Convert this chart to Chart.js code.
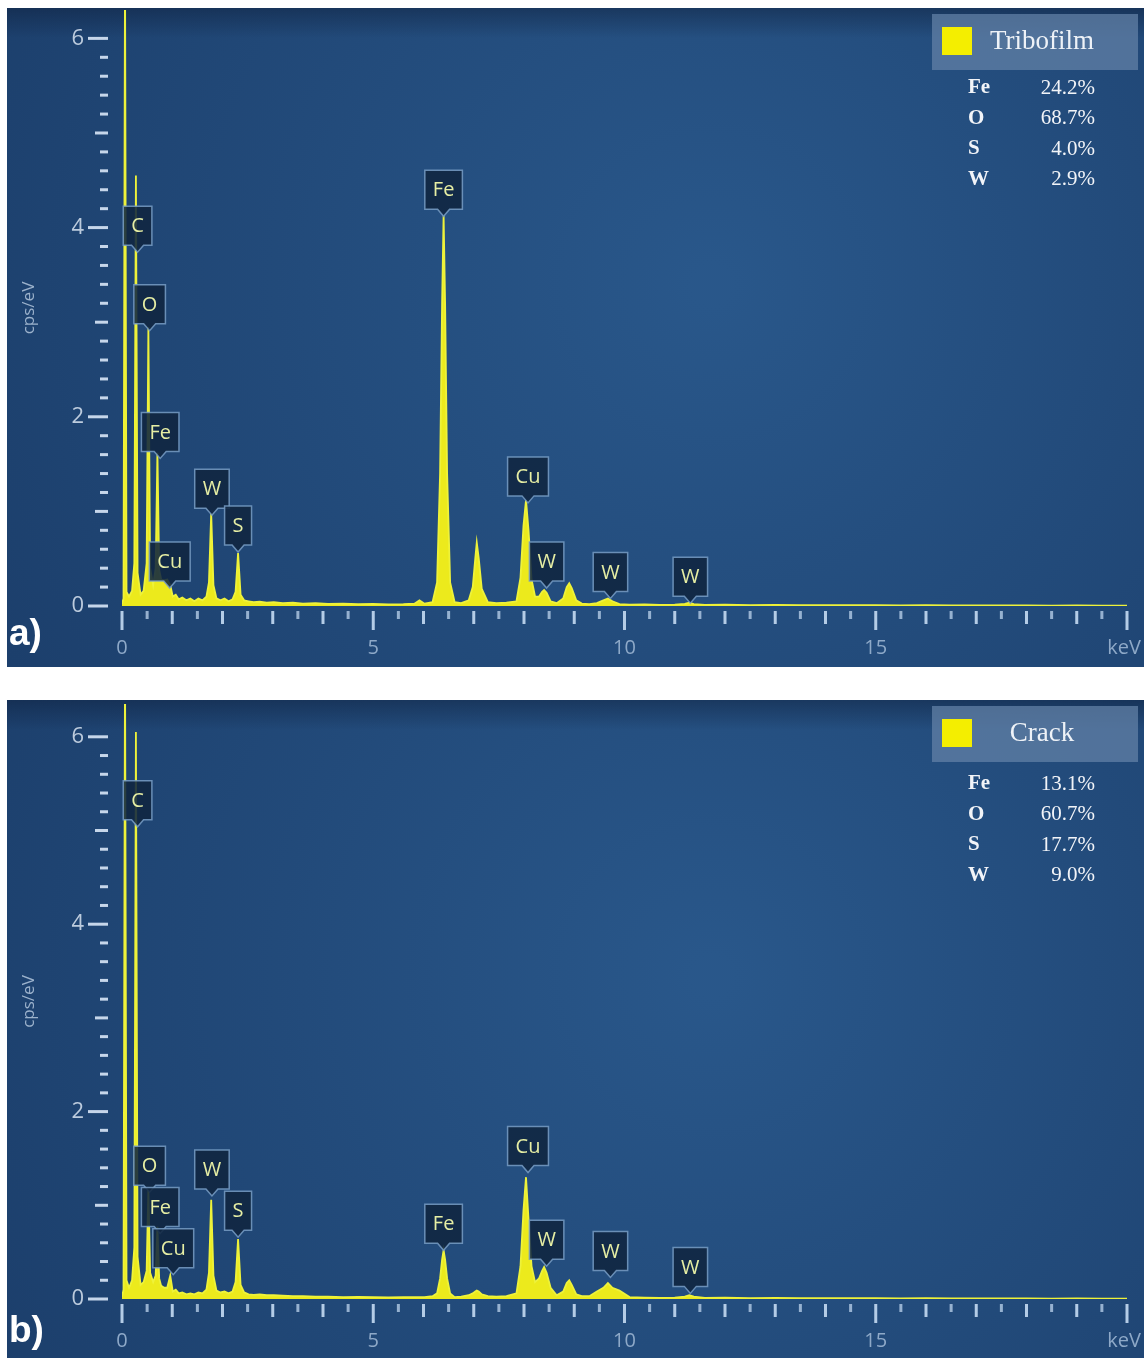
<!DOCTYPE html>
<html>
<head>
<meta charset="utf-8">
<script src="https://cdn.jsdelivr.net/npm/chart.js@4.4.1/dist/chart.umd.min.js"></script>
<style>
  body { margin: 0; background: #fff; width: 1144px; height: 1358px; position: relative; overflow: hidden; }
  canvas { position: absolute; left: 7px; }
  #spectrumA { top: 8px; }
  #spectrumB { top: 700px; }
</style>
</head>
<body>
<canvas id="spectrumA" width="1137" height="659"></canvas>
<canvas id="spectrumB" width="1137" height="658"></canvas>
<script>
// channel energies (keV), shared by both spectra
var energy = [
    0, 0.03, 0.06, 0.09, 0.14, 0.20, 0.245, 0.277, 0.31, 0.37,
    0.43, 0.49, 0.525, 0.56, 0.62, 0.67, 0.705, 0.74, 0.78, 0.84,
    0.90, 0.96, 1.01, 1.07, 1.13, 1.20, 1.28, 1.36, 1.44, 1.52,
    1.60, 1.68, 1.73, 1.775, 1.82, 1.88, 1.96, 2.04, 2.12, 2.20,
    2.26, 2.31, 2.36, 2.43, 2.52, 2.62, 2.74, 2.88, 3.02, 3.20,
    3.40, 3.60, 3.85, 4.10, 4.40, 4.70, 5.00, 5.30, 5.60, 5.82,
    5.92, 6.02, 6.18, 6.27, 6.33, 6.37, 6.40, 6.43, 6.47, 6.53,
    6.62, 6.75, 6.90, 6.98, 7.03, 7.06, 7.10, 7.16, 7.28, 7.45,
    7.65, 7.85, 7.93, 7.99, 8.04, 8.09, 8.15, 8.22, 8.30, 8.36,
    8.40, 8.45, 8.53, 8.65, 8.78, 8.85, 8.90, 8.95, 9.04, 9.15,
    9.30, 9.45, 9.58, 9.67, 9.76, 9.90, 10.1, 10.4, 10.7, 11.0,
    11.2, 11.29, 11.38, 11.6, 12.0, 12.5, 13.0, 13.5, 14.0, 14.5,
    15.0, 15.5, 16.0, 16.5, 17.0, 17.5, 18.0, 18.5, 19.0, 19.5, 20.0
];

// a) tribofilm, cps/eV
var countsA = [
    0.02, 0.08, 6.8, 0.15, 0.10, 0.16, 0.45, 4.55, 0.35, 0.12,
    0.16, 0.45, 2.95, 0.40, 0.22, 0.40, 1.62, 0.38, 0.28, 0.27,
    0.28, 0.22, 0.10, 0.12, 0.07, 0.09, 0.06, 0.08, 0.05, 0.08,
    0.06, 0.10, 0.25, 0.98, 0.22, 0.08, 0.06, 0.08, 0.05, 0.07,
    0.15, 0.56, 0.12, 0.06, 0.05, 0.04, 0.045, 0.035, 0.04, 0.03,
    0.035, 0.025, 0.03, 0.022, 0.025, 0.02, 0.022, 0.018, 0.02, 0.025,
    0.06, 0.025, 0.04, 0.25, 1.4, 3.2, 4.13, 3.2, 1.4, 0.25,
    0.04, 0.03, 0.06, 0.2, 0.5, 0.67, 0.5, 0.18, 0.04, 0.03,
    0.035, 0.05, 0.3, 0.85, 1.12, 0.8, 0.28, 0.1, 0.1, 0.15,
    0.17, 0.14, 0.05, 0.03, 0.08, 0.2, 0.24, 0.19, 0.06, 0.025,
    0.02, 0.03, 0.06, 0.08, 0.05, 0.02, 0.015, 0.018, 0.012, 0.015,
    0.022, 0.035, 0.02, 0.012, 0.015, 0.01, 0.012, 0.009, 0.01, 0.008,
    0.009, 0.007, 0.008, 0.006, 0.007, 0.006, 0.006, 0.005, 0.006, 0.005, 0.005
];

// b) crack, cps/eV
var countsB = [
    0.02, 0.1, 6.9, 0.2, 0.12, 0.2, 0.55, 6.05, 0.45, 0.15,
    0.18, 0.3, 1.18, 0.28, 0.18, 0.25, 0.77, 0.22, 0.14, 0.12,
    0.12, 0.25, 0.08, 0.10, 0.06, 0.07, 0.05, 0.06, 0.05, 0.07,
    0.06, 0.10, 0.28, 1.06, 0.25, 0.09, 0.07, 0.08, 0.06, 0.08,
    0.18, 0.64, 0.15, 0.07, 0.05, 0.045, 0.05, 0.04, 0.04, 0.035,
    0.03, 0.03, 0.025, 0.025, 0.02, 0.022, 0.02, 0.018, 0.02, 0.02,
    0.02, 0.02, 0.03, 0.06, 0.22, 0.42, 0.52, 0.42, 0.22, 0.06,
    0.02, 0.025, 0.04, 0.06, 0.08, 0.09, 0.08, 0.05, 0.03, 0.025,
    0.03, 0.06, 0.35, 0.95, 1.30, 0.85, 0.35, 0.18, 0.22, 0.30,
    0.34, 0.28, 0.12, 0.04, 0.08, 0.17, 0.2, 0.15, 0.05, 0.03,
    0.03, 0.08, 0.12, 0.17, 0.12, 0.09, 0.02, 0.015, 0.012, 0.015,
    0.025, 0.04, 0.025, 0.012, 0.014, 0.01, 0.011, 0.009, 0.01, 0.008,
    0.009, 0.007, 0.008, 0.006, 0.007, 0.006, 0.006, 0.005, 0.006, 0.005, 0.005
];

// axis labels
var yLabels = [0, 2, 4, 6];
var xLabels = [0, 5, 10, 15];

// peak markers: element, energy (keV), where the marker tip sits (cps/eV)
var markA = ['C', 'O', 'Fe', 'Cu', 'W', 'S', 'Fe', 'Cu', 'W', 'W', 'W'];
var markEnergyA = [0.31, 0.55, 0.76, 0.95, 1.79, 2.31, 6.40, 8.08, 8.45, 9.72, 11.31];
var markTipA = [3.74, 2.91, 1.56, 0.19, 0.96, 0.57, 4.12, 1.09, 0.19, 0.08, 0.03];

var markB = ['C', 'O', 'Fe', 'Cu', 'W', 'S', 'Fe', 'Cu', 'W', 'W', 'W'];
var markEnergyB = [0.31, 0.55, 0.76, 1.02, 1.79, 2.31, 6.40, 8.08, 8.45, 9.72, 11.31];
var markTipB = [5.04, 1.14, 0.70, 0.26, 1.10, 0.66, 0.52, 1.35, 0.35, 0.23, 0.06];

// quantification table
var compElements = ['Fe', 'O', 'S', 'W'];
var compA = ['24.2%', '68.7%', '4.0%', '2.9%'];
var compB = ['13.1%', '60.7%', '17.7%', '9.0%'];

function makeSpectrum(canvasId, counts, marks, markEnergy, markTip, comp, cfg) {
    var points = energy.map(function (e, i) { return { x: e, y: counts[i] }; });

    var decorations = {
        id: 'decorations',
        beforeDraw: function (chart) {
            var ctx = chart.ctx, w = chart.width, h = chart.height;
            ctx.save();
            var g = ctx.createRadialGradient(w * 0.62, h * 0.42, 20, w * 0.62, h * 0.42, w * 0.7);
            g.addColorStop(0, '#29578a');
            g.addColorStop(1, '#1c3f6c');
            ctx.fillStyle = g;
            ctx.fillRect(0, 0, w, h);
            var t = ctx.createLinearGradient(0, 0, 0, 30);
            t.addColorStop(0, 'rgba(12,28,55,0.45)');
            t.addColorStop(1, 'rgba(12,28,55,0)');
            ctx.fillStyle = t;
            ctx.fillRect(0, 0, w, 30);
            ctx.restore();
        },
        afterDraw: function (chart) {
            var ctx = chart.ctx, area = chart.chartArea;
            var xs = chart.scales.x, ys = chart.scales.y;
            ctx.save();

            // y tick marks
            ctx.fillStyle = '#c6d6ea';
            ys.ticks.forEach(function (t) {
                var step = Math.round(t.value / 0.2);
                if (Math.abs(t.value - step * 0.2) > 1e-6) return;
                var len = step % 10 === 0 ? 20 : (step % 5 === 0 ? 13 : 8);
                var y = ys.getPixelForValue(t.value);
                ctx.fillRect(area.left - 14 - len, y - 1.5, len, 3);
            });

            // x tick marks
            xs.ticks.forEach(function (t) {
                var step = Math.round(t.value / 0.5);
                var len = step % 10 === 0 ? 19 : (step % 2 === 0 ? 13 : 8);
                ctx.fillStyle = step % 2 === 0 ? '#b4cce6' : 'rgba(180,204,230,0.8)';
                var x = xs.getPixelForValue(t.value);
                ctx.fillRect(x - 1.5, area.bottom + 5, 3, len);
            });

            // tick labels
            ctx.textBaseline = 'middle';
            ctx.fillStyle = '#bccbdd';
            ctx.font = '22px "Open Sans"';
            ctx.textAlign = 'right';
            yLabels.forEach(function (v) {
                ctx.fillText(String(v), area.left - 38, ys.getPixelForValue(v));
            });
            ctx.fillStyle = '#8ea9c8';
            ctx.font = '20px "Open Sans"';
            ctx.textAlign = 'center';
            xLabels.forEach(function (v) {
                ctx.fillText(String(v), xs.getPixelForValue(v), area.bottom + cfg.unitOffset);
            });
            ctx.textAlign = 'right';
            ctx.fillText('keV', chart.width - 3, area.bottom + cfg.unitOffset);

            // peak markers
            ctx.font = '20px "Open Sans"';
            ctx.textAlign = 'center';
            marks.forEach(function (m, i) {
                var x = xs.getPixelForValue(markEnergy[i]);
                var tip = ys.getPixelForValue(markTip[i]);
                var w = ctx.measureText(m).width + 16, h = 39, p = 7;
                var left = x - w / 2, bottom = tip - p, top = bottom - h;
                ctx.beginPath();
                ctx.moveTo(left, top);
                ctx.lineTo(left + w, top);
                ctx.lineTo(left + w, bottom);
                ctx.lineTo(x + 6, bottom);
                ctx.lineTo(x, tip);
                ctx.lineTo(x - 6, bottom);
                ctx.lineTo(left, bottom);
                ctx.closePath();
                ctx.fillStyle = 'rgba(16,38,64,0.88)';
                ctx.fill();
                ctx.strokeStyle = 'rgba(120,158,198,0.85)';
                ctx.lineWidth = 1.5;
                ctx.stroke();
                ctx.fillStyle = '#e6eea4';
                ctx.fillText(m, x, top + h / 2 + 1);
            });

            // legend box
            var bx = chart.width - 206 - 6;
            ctx.fillStyle = 'rgba(100,130,168,0.72)';
            ctx.fillRect(bx, 6, 206, 56);
            ctx.fillStyle = '#f4ee00';
            ctx.fillRect(bx + 10, 19, 30, 28);
            ctx.fillStyle = '#eef2f7';
            ctx.font = '27px "Liberation Serif"';
            ctx.textAlign = 'center';
            ctx.fillText(cfg.legend, bx + 110, 34);

            // composition table
            compElements.forEach(function (el, i) {
                var y = cfg.tableTop + i * 30.5;
                ctx.fillStyle = '#f2f4f8';
                ctx.font = 'bold 21px "Liberation Serif"';
                ctx.textAlign = 'left';
                ctx.fillText(el, bx + 36, y);
                ctx.font = '21px "Liberation Serif"';
                ctx.textAlign = 'right';
                ctx.fillText(comp[i], bx + 163, y);
            });

            // panel letter
            ctx.fillStyle = '#ffffff';
            ctx.font = 'bold 37px "Liberation Sans"';
            ctx.textAlign = 'left';
            ctx.textBaseline = 'alphabetic';
            ctx.fillText(cfg.panel, 2, cfg.panelBase);
            ctx.restore();
        }
    };

    return new Chart(document.getElementById(canvasId).getContext('2d'), {
        type: 'scatter',
        data: {
            datasets: [{
                data: points,
                showLine: true,
                fill: 'origin',
                borderColor: '#eef23a',
                backgroundColor: '#ecea1c',
                borderWidth: 1.8,
                pointRadius: 0,
                tension: 0
            }]
        },
        options: {
            responsive: false,
            animation: false,
            events: [],
            layout: { padding: { top: cfg.padTop, right: 17, left: 0, bottom: 0 } },
            plugins: { legend: { display: false }, tooltip: { enabled: false } },
            scales: {
                x: {
                    type: 'linear',
                    min: 0,
                    max: 20,
                    border: { display: false },
                    grid: { display: false, drawTicks: false },
                    afterFit: function (scale) { scale.height = cfg.xAxisHeight; },
                    ticks: { display: false, stepSize: 0.5, autoSkip: false }
                },
                y: {
                    min: 0,
                    max: cfg.yMax,
                    border: { display: false },
                    grid: { display: false, drawTicks: false },
                    afterFit: function (scale) { scale.width = 115; },
                    title: {
                        display: true,
                        text: 'cps/eV',
                        color: '#9cb2cc',
                        font: { family: 'Open Sans', size: 17 },
                        padding: { top: 12, bottom: 0 }
                    },
                    ticks: { display: false, stepSize: 0.2, autoSkip: false }
                }
            }
        },
        plugins: [decorations]
    });
}

document.addEventListener('DOMContentLoaded', function () {
    makeSpectrum('spectrumA', countsA, markA, markEnergyA, markTipA, compA, {
        legend: 'Tribofilm', panel: 'a)', panelBase: 637, yMax: 6.3, padTop: 2,
        xAxisHeight: 61, tableTop: 80, unitOffset: 42
    });
    makeSpectrum('spectrumB', countsB, markB, markEnergyB, markTipB, compB, {
        legend: 'Crack', panel: 'b)', panelBase: 642, yMax: 6.35, padTop: 4,
        xAxisHeight: 59, tableTop: 84, unitOffset: 42
    });
});
</script>
</body>
</html>
